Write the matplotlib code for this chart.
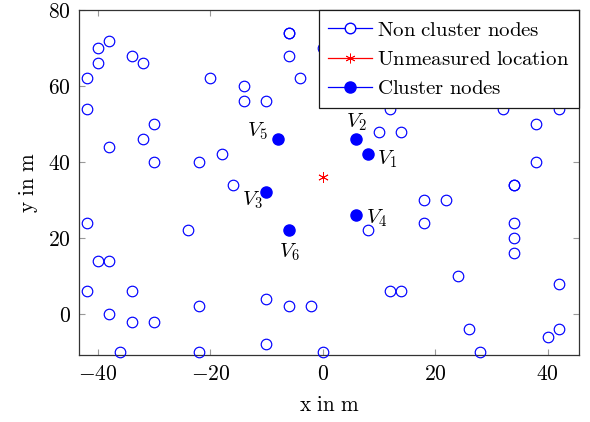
import matplotlib
matplotlib.use("Agg")

import matplotlib.pyplot as plt
from matplotlib.lines import Line2D
from matplotlib.ticker import FuncFormatter

plt.rcParams['mathtext.fontset'] = 'cm'

# non cluster nodes (x, y in m)
other_x = [-42, -42, -40, -40, -38, -34, -32, -20, -14, -14, -10, -6, -6, -6, -4, 0,
           12, 32, 42, 10, 14, 38, 38, -30, -32, -38, -30, -22, -18, -16, 34, 34,
           -42, -24, -40, -38, -42, -34, -38, -34, -30, -22, -10, -6, -2, -10,
           -36, -22, 0, 18, 22, 8, 18, 34, 34, 34, 24, 42, 12, 14, 26, 40, 42, 28]
other_y = [62, 54, 70, 66, 72, 68, 66, 62, 60, 56, 56, 74, 74, 68, 62, 70,
           54, 54, 54, 48, 48, 50, 40, 50, 46, 44, 40, 40, 42, 34, 34, 34,
           24, 22, 14, 14, 6, 6, 0, -2, -2, 2, 4, 2, 2, -8,
           -10, -10, -10, 30, 30, 22, 24, 24, 20, 16, 10, 8, 6, 6, -4, -6, -4, -10]

# unmeasured location
target_x = [0]
target_y = [36]

# cluster nodes V1..V6
cluster_names = ['V_1', 'V_2', 'V_3', 'V_4', 'V_5', 'V_6']
cluster_x = [8, 6, -10, 6, -8, -6]
cluster_y = [42, 46, 32, 26, 46, 22]


def main():
    fig = plt.figure(figsize=(5.9, 4.22), dpi=100)
    ax = fig.add_axes([0.1344, 0.158, 0.8470, 0.818])

    ax.plot(other_x, other_y, 'o', mfc='none', mec='blue', ms=7.6, mew=0.85,
            clip_on=False, zorder=3)
    ax.plot(target_x, target_y, ls='none', marker=(6, 2, 0), color='red',
            ms=7.5, mew=0.6, zorder=3)
    ax.plot(cluster_x, cluster_y, 'o', color='blue', ms=8, zorder=3)

    # label placement, offsets in pixels: (dx, dy, ha, va)
    label_pos = {
        'V_1': (9, -5, 'left', 'center'),
        'V_2': (0, 6, 'center', 'bottom'),
        'V_3': (-4, -8, 'right', 'center'),
        'V_4': (10, -3, 'left', 'center'),
        'V_5': (-10, 8, 'right', 'center'),
        'V_6': (0, -11, 'center', 'top'),
    }
    for name, x, y in zip(cluster_names, cluster_x, cluster_y):
        dx, dy, ha, va = label_pos[name]
        ax.annotate('$' + name + '$', (x, y), xytext=(dx, dy),
                    textcoords='offset pixels', ha=ha, va=va, fontsize=15)

    ax.set_xlim(-43.3, 45.6)
    ax.set_ylim(-10.9, 80)
    ax.set_xticks([-40, -20, 0, 20, 40])
    ax.set_yticks([0, 20, 40, 60, 80])
    fmt = FuncFormatter(lambda v, p: '$%d$' % v)
    ax.xaxis.set_major_formatter(fmt)
    ax.yaxis.set_major_formatter(fmt)
    ax.tick_params(direction='in', length=4, width=0.8, color='0.6',
                   top=True, right=True, labelsize=15.5, pad=6)
    for s in ax.spines.values():
        s.set_linewidth(0.9)
        s.set_color('0.2')

    ax.set_xlabel(r'$\mathrm{x\ in\ m}$', fontsize=15.3, labelpad=8)
    ax.set_ylabel(r'$\mathrm{y\ in\ m}$', fontsize=15.3, labelpad=6)

    handles = [
        Line2D([], [], color='blue', lw=0.9, marker='o', mfc='white', mec='blue', ms=7.6),
        Line2D([], [], color='red', lw=0.9, marker=(6, 2, 0), ms=7, mew=0.6),
        Line2D([], [], color='blue', lw=0.9, marker='o', ms=8),
    ]
    labels = [r'$\mathrm{Non\ cluster\ nodes}$', r'$\mathrm{Unmeasured\ location}$',
              r'$\mathrm{Cluster\ nodes}$']
    leg = ax.legend(handles, labels, loc='upper right', borderaxespad=0,
                    fontsize=15, fancybox=False, framealpha=1, edgecolor='0.1',
                    handlelength=2.1, handletextpad=0.25, labelspacing=0.45,
                    borderpad=0.45)
    leg.get_frame().set_linewidth(0.9)
    leg.set_zorder(5)

    fig.savefig('out.png', dpi=100)


if __name__ == "__main__":
    main()
